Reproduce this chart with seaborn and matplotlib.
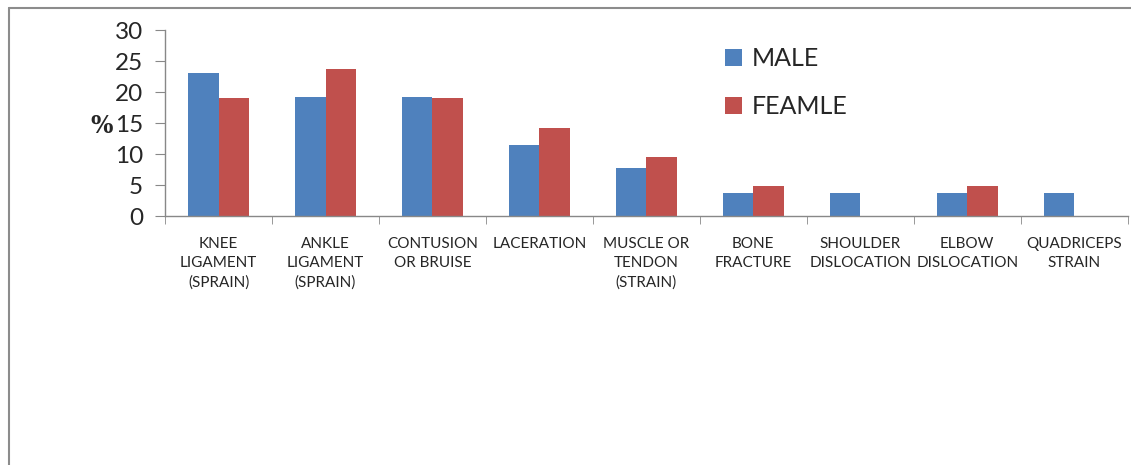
import pandas as pd
import matplotlib.pyplot as plt
import seaborn as sns
from matplotlib.lines import Line2D

categories = ["KNEE\nLIGAMENT\n(SPRAIN)", "ANKLE\nLIGAMENT\n(SPRAIN)", "CONTUSION\nOR BRUISE",
              "LACERATION", "MUSCLE OR\nTENDON\n(STRAIN)", "BONE\nFRACTURE",
              "SHOULDER\nDISLOCATION", "ELBOW\nDISLOCATION", "QUADRICEPS\nSTRAIN"]
male = [23.1, 19.2, 19.2, 11.5, 7.7, 3.8, 3.8, 3.8, 3.8]
female = [19.0, 23.8, 19.0, 14.3, 9.5, 4.8, 0.0, 4.8, 0.0]
series = ["MALE", "FEAMLE"]
colors = ["#4f81bd", "#c0504d"]

df = pd.DataFrame({
    "injury": categories * 2,
    "sex": [series[0]] * len(male) + [series[1]] * len(female),
    "pct": male + female,
})

sns.set_style("white")
plt.rcParams['font.family'] = ['Lato', 'DejaVu Sans']

fig = plt.figure(figsize=(11.31, 4.65), dpi=100)
ax = fig.add_axes([0.146, 0.535, 0.851, 0.400])

sns.barplot(data=df, x="injury", y="pct", hue="sex", palette=colors,
            width=0.57, gap=0, saturation=1, ax=ax, edgecolor="none")

ax.set_xlim(-0.5, 8.5)
ax.set_ylim(0, 30)
ax.set_yticks([0, 5, 10, 15, 20, 25, 30])
ax.tick_params(axis="y", labelsize=17.5, length=7, color="#888888", pad=9, left=True)
ax.tick_params(axis="x", which="major", length=0, labelsize=11, pad=15)
ax.set_xticks([i - 0.5 for i in range(len(categories) + 1)], minor=True)
ax.tick_params(axis="x", which="minor", length=6, color="#888888", bottom=True)
for lbl in ax.get_xticklabels():
    lbl.set_linespacing(1.45)
ax.set_xlabel("")
ax.set_ylabel("")

for s in ["top", "right"]:
    ax.spines[s].set_visible(False)
for s in ["left", "bottom"]:
    ax.spines[s].set_color("#888888")
    ax.spines[s].set_linewidth(1)

fig.text(0.080, 0.728, "%", fontsize=17, fontweight="bold", family="DejaVu Serif",
         ha="left", va="center")

leg = ax.legend(loc="upper left", bbox_to_anchor=(0.558, 1.03), frameon=False,
                fontsize=18, handlelength=0.7, handleheight=0.7, handletextpad=0.4,
                labelspacing=1.0)

# outer border of the original picture
fig.add_artist(Line2D([9 / 1131, 1], [1 - 8 / 465, 1 - 8 / 465], color="#8c8c8c", lw=1.5))
fig.add_artist(Line2D([9 / 1131, 9 / 1131], [0, 1 - 8 / 465], color="#8c8c8c", lw=1.5))

plt.savefig("out.png", dpi=100)
